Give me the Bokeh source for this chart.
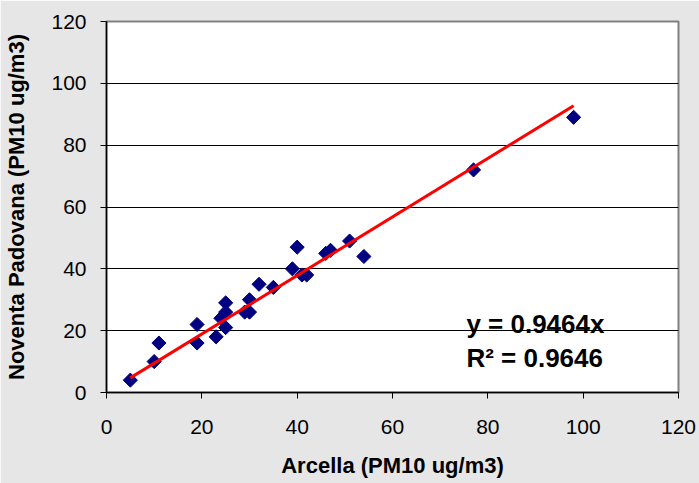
import numpy as np
from bokeh.plotting import figure
from bokeh.models import Range1d, FixedTicker, Label
from bokeh.embed import file_html
from bokeh.resources import INLINE

arcella = [5, 10, 11, 19, 19, 23, 25, 25, 24, 25, 30, 29, 30, 32, 35, 39, 40, 41, 42, 46, 47, 51, 54, 77, 98]
noventa = [4, 10, 16, 22, 16, 18, 29, 26, 24, 21, 30, 26, 26, 35, 34, 40, 47, 38, 38, 45, 46, 49, 44, 72, 89]
slope = 0.9464
r2 = 0.9646
ticks = [0, 20, 40, 60, 80, 100, 120]

p = figure(width=699, height=483, output_backend="svg", toolbar_location=None,
           x_range=Range1d(0, 120), y_range=Range1d(0, 120),
           min_border_left=106, min_border_right=21, min_border_top=21, min_border_bottom=91)
p.border_fill_color = "#e6e6e6"
p.background_fill_color = "white"
p.outline_line_color = "#808080"
p.outline_line_width = 2

FONT = "Liberation Sans"
for ax in (p.xaxis[0], p.yaxis[0]):
    ax.ticker = FixedTicker(ticks=ticks)
    ax.major_label_text_font = FONT
    ax.major_label_text_font_size = "21px"
    ax.major_label_text_color = "black"
    ax.axis_label_text_font = FONT
    ax.axis_label_text_font_size = "22px"
    ax.axis_label_text_font_style = "bold"
    ax.axis_label_text_color = "black"
    ax.axis_line_color = "black"
    ax.axis_line_width = 1.5
    ax.major_tick_line_color = "black"
    ax.major_tick_out = 6
    ax.major_tick_in = 0
    ax.minor_tick_line_color = None

p.xaxis.axis_label = "Arcella (PM10 ug/m3)"
p.yaxis.axis_label = "Noventa Padovana (PM10 ug/m3)"
p.xaxis.major_label_standoff = 21
p.xaxis.axis_label_standoff = 16
p.yaxis.major_label_standoff = 14
p.yaxis.axis_label_standoff = 19

p.xgrid.grid_line_color = None
p.ygrid.grid_line_color = "black"
p.ygrid.grid_line_width = 1
p.ygrid.ticker = FixedTicker(ticks=ticks)

xs = np.array([min(arcella), max(arcella)], dtype=float)
p.scatter(arcella, noventa, marker="square", angle=np.pi / 4, size=10,
          fill_color="#000080", line_color="#000080")
p.line(xs, slope * xs, line_color="red", line_width=3)

p.add_layout(Label(x=75.5, y=22.3, text=f"y = {slope}x", text_font=FONT,
                   text_font_size="26px", text_font_style="bold", text_color="black",
                   text_baseline="middle"))
p.add_layout(Label(x=75.5, y=11, text=f"R\u00b2 = {r2}", text_font=FONT,
                   text_font_size="26px", text_font_style="bold", text_color="black",
                   text_baseline="middle"))

open("out.html", "w").write(file_html(p, INLINE))
